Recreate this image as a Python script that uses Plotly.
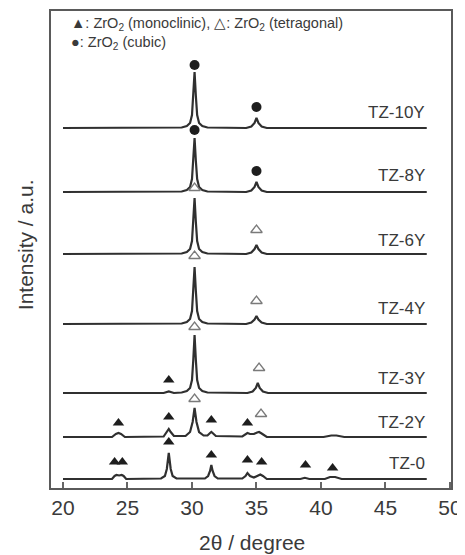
import plotly.graph_objects as go

# ---------------- data ----------------
SAMPLES = ["TZ-10Y", "TZ-8Y", "TZ-6Y", "TZ-4Y", "TZ-3Y", "TZ-2Y", "TZ-0"]
OFFSETS = [360, 296, 234, 164, 95, 51, 9]          # vertical stacking offset (a.u.)
LABEL_LEVEL = [16, 17, 14, 16, 15, 15, 16]          # label height above baseline (a.u.)

TH_10Y = [20.0, 29.2, 29.6, 29.85, 30.0, 30.1, 30.2, 30.3, 30.4, 30.55, 30.8, 31.2,
          34.2, 34.6, 34.85, 35.0, 35.15, 35.4, 35.8, 48.2]
I_10Y = [0, 0.5, 2, 5, 13, 32, 56, 32, 13, 5, 2, 0.5,
         0, 1.5, 5, 10, 5, 1.5, 0, 0]

TH_8Y = [20.0, 29.2, 29.6, 29.85, 30.0, 30.1, 30.2, 30.3, 30.4, 30.55, 30.8, 31.2,
         34.2, 34.6, 34.85, 35.0, 35.15, 35.4, 35.8, 48.2]
I_8Y = [0, 0.5, 2, 5, 13, 31, 54, 31, 13, 5, 2, 0.5,
        0, 1.5, 5, 10, 5, 1.5, 0, 0]

TH_6Y = [20.0, 29.2, 29.6, 29.85, 30.0, 30.1, 30.2, 30.3, 30.4, 30.55, 30.8, 31.2,
         34.2, 34.6, 34.85, 35.0, 35.15, 35.4, 35.8, 48.2]
I_6Y = [0, 0.5, 2, 5, 13, 32, 56, 32, 13, 5, 2, 0.5,
        0, 1.5, 5, 9, 5, 1.5, 0, 0]

TH_4Y = [20.0, 29.2, 29.6, 29.85, 30.0, 30.1, 30.2, 30.3, 30.4, 30.55, 30.8, 31.2,
         34.2, 34.6, 34.85, 35.0, 35.15, 35.4, 35.8, 48.2]
I_4Y = [0, 0.5, 2, 5, 13, 33, 57, 33, 13, 5, 2, 0.5,
        0, 1.5, 4.5, 8, 4.5, 1.5, 0, 0]

TH_3Y = [20.0, 27.8, 28.2, 28.6, 29.2, 29.6, 29.85, 30.0, 30.1, 30.2, 30.3, 30.4, 30.55, 30.8, 31.2,
         34.3, 34.7, 34.95, 35.1, 35.25, 35.5, 35.9, 48.2]
I_3Y = [0, 0, 1.5, 0, 0.5, 2, 5, 13, 33, 58, 33, 13, 5, 2, 0.5,
        0, 1.5, 5, 10, 5, 1.5, 0, 0]

TH_2Y = [20.0, 23.8, 24.1, 24.3, 24.5, 24.8, 27.8, 28.05, 28.2, 28.35, 28.6,
         29.5, 29.85, 30.05, 30.2, 30.35, 30.55, 30.9, 31.2, 31.4, 31.5, 31.6, 31.85,
         33.9, 34.15, 34.3, 34.5, 34.8, 35.05, 35.2, 35.4, 35.8,
         40.2, 40.8, 41.2, 41.8, 48.2]
I_2Y = [0, 0, 3, 4, 3, 0, 0.5, 5, 8, 5, 1,
        1, 5, 15, 29, 15, 5, 1.5, 1.5, 4, 5, 4, 1,
        0.5, 3, 4, 3, 3, 4.5, 5, 3.5, 0,
        0, 1.5, 1.5, 0, 0]

TH_0 = [20.0, 23.8, 24.0, 24.15, 24.35, 24.55, 24.7, 24.9,
        27.6, 27.9, 28.05, 28.2, 28.35, 28.5, 28.8,
        31.0, 31.25, 31.4, 31.5, 31.6, 31.75, 32.0,
        33.9, 34.15, 34.3, 34.5, 34.8, 35.1, 35.3, 35.5, 35.8,
        38.4, 38.75, 39.1, 40.3, 40.7, 41.1, 41.6, 48.2]
I_0 = [0, 0, 3, 4, 3.5, 4, 3, 0,
       0.5, 3, 10, 26, 10, 3, 0.5,
       0.5, 3, 8, 14, 8, 3, 0.5,
       0.5, 3, 6, 3, 1.5, 3.5, 4.5, 3, 0,
       0, 1.2, 0, 0, 2, 2, 0, 0]

THETAS = [TH_10Y, TH_8Y, TH_6Y, TH_4Y, TH_3Y, TH_2Y, TH_0]
INTENSITIES = [I_10Y, I_8Y, I_6Y, I_4Y, I_3Y, I_2Y, I_0]

# phase markers: sample, 2theta, level above that sample's baseline (a.u.)
CUBIC_SAMPLE = ["TZ-10Y", "TZ-10Y", "TZ-8Y", "TZ-8Y"]
CUBIC_THETA = [30.2, 35.0, 30.2, 35.0]
CUBIC_LEVEL = [63, 21, 62, 21]

TETRA_SAMPLE = ["TZ-6Y", "TZ-6Y", "TZ-4Y", "TZ-4Y", "TZ-3Y", "TZ-3Y", "TZ-2Y", "TZ-2Y"]
TETRA_THETA = [30.2, 35.0, 30.2, 35.0, 30.2, 35.2, 30.2, 35.35]
TETRA_LEVEL = [66, 24, 68, 23, 66, 25, 38, 23]

MONO_SAMPLE = ["TZ-3Y", "TZ-2Y", "TZ-2Y", "TZ-2Y", "TZ-2Y",
               "TZ-0", "TZ-0", "TZ-0", "TZ-0", "TZ-0", "TZ-0", "TZ-0", "TZ-0"]
MONO_THETA = [28.2, 24.3, 28.2, 31.5, 34.3,
              24.0, 24.6, 28.2, 31.5, 34.3, 35.4, 38.8, 40.9]
MONO_LEVEL = [13, 14, 20, 17, 14,
              17, 17, 37, 24, 19, 17, 14, 11]

PHASE_KEY = ["▲: ZrO<sub>2</sub> (monoclinic), △: ZrO<sub>2</sub> (tetragonal)",
             "●: ZrO<sub>2</sub> (cubic)"]

X_TICKS = [20, 25, 30, 35, 40, 45, 50]

# ---------------- figure ----------------
LINE_COLOR = "#303030"
TEXT_COLOR = "#3a3a3a"
FONT = "Liberation Sans, Arial, sans-serif"

fig = go.Figure()
off = dict(zip(SAMPLES, OFFSETS))

for name, th, inten, o in zip(SAMPLES, THETAS, INTENSITIES, OFFSETS):
    fig.add_trace(go.Scatter(
        x=th, y=[v + o for v in inten], mode="lines",
        line=dict(color=LINE_COLOR, width=2.2), name=name, showlegend=False,
        hoverinfo="skip"))

def add_markers(samples, thetas, levels, symbol, color, lw=0):
    fig.add_trace(go.Scatter(
        x=thetas, y=[lv + off[s] for s, lv in zip(samples, levels)],
        mode="markers",
        marker=dict(symbol=symbol, size=10, color=color,
                    line=dict(color=color, width=lw)),
        showlegend=False, hoverinfo="skip"))

add_markers(CUBIC_SAMPLE, CUBIC_THETA, CUBIC_LEVEL, "circle", "#1e1e1e")
add_markers(MONO_SAMPLE, MONO_THETA, MONO_LEVEL, "triangle-up", "#1e1e1e")
add_markers(TETRA_SAMPLE, TETRA_THETA, TETRA_LEVEL, "triangle-up-open", "#7a7a7a", 1.3)

# sample labels
for name, o, lv in zip(SAMPLES, OFFSETS, LABEL_LEVEL):
    fig.add_annotation(x=48.2, y=o + lv, text=name, showarrow=False,
                       xanchor="right", yanchor="middle",
                       font=dict(family=FONT, size=17, color=TEXT_COLOR))

# phase key (top-left)
fig.add_annotation(xref="paper", yref="paper", x=0.045, y=0.952,
                   text="<br>".join(PHASE_KEY), align="left",
                   showarrow=False, xanchor="left", yanchor="middle",
                   font=dict(family=FONT, size=14.5, color=TEXT_COLOR))

# axis titles
fig.add_annotation(xref="paper", yref="paper", x=-0.065, y=0.509,
                   text="Intensity / a.u.", textangle=-90, showarrow=False,
                   xanchor="center", yanchor="middle",
                   font=dict(family=FONT, size=21, color=TEXT_COLOR))
fig.add_annotation(xref="paper", yref="paper", x=0.5025, y=-0.1153,
                   text="2θ / degree", showarrow=False,
                   xanchor="center", yanchor="middle",
                   font=dict(family=FONT, size=21, color=TEXT_COLOR))

fig.update_xaxes(range=[19.07, 50.08], tickvals=X_TICKS,
                 ticktext=[str(t) for t in X_TICKS],
                 ticks="inside", ticklen=6, tickwidth=1.5, tickcolor="#666",
                 showline=True, linecolor="#5a5a5a", linewidth=2, mirror=True,
                 showgrid=False, zeroline=False, automargin=False,
                 tickfont=dict(family=FONT, size=21, color=TEXT_COLOR))
fig.update_yaxes(range=[0, 477], showticklabels=False, ticks="",
                 showline=True, linecolor="#5a5a5a", linewidth=2, mirror=True,
                 showgrid=False, zeroline=False, automargin=False)

# the page body adds an 8 px margin, so the figure is 8 px smaller and shifted
fig.update_layout(width=457, height=547,
                  margin=dict(l=43, r=14, t=3, b=67, autoexpand=False),
                  paper_bgcolor="white", plot_bgcolor="white",
                  showlegend=False)

fig.write_html("out.html")
